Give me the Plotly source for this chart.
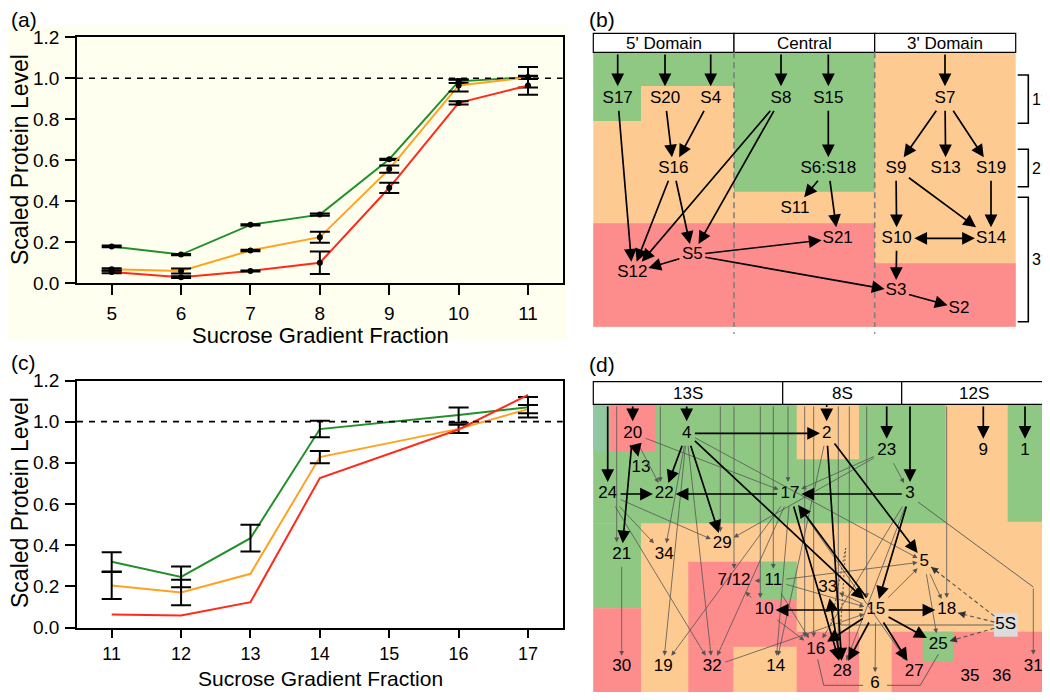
import plotly.graph_objects as go

# page body has an 8px margin: figure is placed at (8, 8) in the 1050x700 window
OX, OY = 8, 8
FW, FH = 1042, 684
FONT = "Arial, Liberation Sans, sans-serif"

# ---------------- Panel (a) data ----------------
a_fraction = [5, 6, 7, 8, 9, 10, 11]
a_green = [0.18, 0.14, 0.285, 0.335, 0.605, 0.985, 1.005]
a_green_err = [0.004, 0.003, 0.003, 0.005, 0.003, 0.008, 0.008]
a_orange = [0.068, 0.06, 0.16, 0.225, 0.557, 0.965, 1.005]
a_orange_err = [0.006, 0.012, 0.004, 0.027, 0.018, 0.03, 0.05]
a_red = [0.055, 0.03, 0.06, 0.10, 0.466, 0.88, 0.965]
a_red_err = [0.006, 0.004, 0.003, 0.055, 0.025, 0.008, 0.045]

# ---------------- Panel (c) data ----------------
c_fraction = [11, 12, 13, 14, 15, 16, 17]
c_green = [0.319, 0.246, 0.434, 0.964, None, 1.032, 1.07]
c_green_err = [0.047, 0.05, 0.065, 0.04, None, 0.037, 0.05]
c_orange = [0.204, 0.17, 0.261, 0.828, None, 0.965, 1.061]
c_orange_err = [0.066, 0.062, None, 0.03, None, 0.02, 0.02]
c_red = [0.063, 0.058, 0.123, 0.726, None, 0.962, 1.13]
c_red_err = [None, None, None, None, None, None, None]

y_ticks = [0.0, 0.2, 0.4, 0.6, 0.8, 1.0, 1.2]

# ---------------- Panel (b) diagram ----------------
b_header = ["5' Domain", "Central", "3' Domain"]
b_labels = ["S17", "S20", "S4", "S8", "S15", "S7", "S16", "S6:S18", "S9", "S13",
            "S19", "S11", "S21", "S10", "S14", "S5", "S12", "S3", "S2"]
b_x = [617.7, 665, 710.7, 781, 828.3, 945, 673.3, 828.3, 896, 945.7,
       991, 795, 837.7, 896.7, 991, 692.3, 632.3, 896, 959]
b_y = [98.3, 98.3, 98.3, 98.3, 98.3, 98.3, 168.3, 168.3, 168.3, 168.3,
       168.3, 208.3, 238.3, 238.3, 238.3, 255, 272.7, 291, 308.3]
b_from_header = ["S17", "S20", "S4", "S8", "S15", "S7"]
b_edges = [("S17", "S12"), ("S20", "S16"), ("S4", "S16"), ("S8", "S12"), ("S8", "S5"),
           ("S15", "S6:S18"), ("S16", "S12"), ("S16", "S5"), ("S6:S18", "S11"),
           ("S6:S18", "S21"), ("S7", "S9"), ("S7", "S13"), ("S7", "S19"), ("S9", "S10"),
           ("S9", "S14"), ("S19", "S14"), ("S10", "S3"), ("S5", "S12"), ("S5", "S21"),
           ("S5", "S3"), ("S3", "S2")]
b_two_way = [("S10", "S14")]
b_levels = ["1°", "2°", "3°"]

# ---------------- Panel (d) diagram ----------------
d_header = ["13S", "8S", "12S"]
d_labels = ["20", "4", "2", "23", "9", "1", "13", "24", "22", "17", "3", "29", "21", "34",
            "5", "7/12", "11", "33", "10", "15", "18", "5S", "25", "16", "30", "19", "32",
            "14", "28", "27", "31", "6", "35", "36"]
d_x = [632.7, 686.7, 826.7, 886.7, 983.3, 1025, 641, 607.7, 664.3, 790, 910, 722.3, 621.7, 664.3,
       924.3, 734, 773.3, 827.7, 764.3, 875.7, 946.7, 1005.7, 938.3, 815.7, 621.7, 663.3, 712.3,
       775.7, 842.3, 914.3, 1033.3, 875, 970, 1001.7]
d_y = [433.3, 433.3, 433.3, 450.7, 450.7, 450.7, 467.7, 494, 494, 494, 494, 544, 554.3, 554.3,
       561.7, 580.7, 580.7, 587.3, 610, 610, 610, 625, 644.3, 649.3, 666.7, 666.7, 666.7,
       666.7, 671.7, 671.7, 666.7, 683.3, 676.7, 676.7]
d_from_header = ["24", "20", "4", "23", "3", "9", "1"]
d_from_header_dotted = ["2"]
d_header_thin = [("21", -5), ("22", -4), ("29", -2), ("7/12", 0), ("10", -4), ("11", 0),
                 ("17", -2), ("16", -11), ("16", -2), ("28", -4), ("28", 7), ("15", -9), ("18", 0)]
d_thick = [("20", "13"), ("20", "21"), ("24", "22"), ("4", "22"), ("4", "2"), ("4", "29"),
           ("4", "15"), ("17", "22"), ("3", "17"), ("2", "28"), ("2", "5"), ("3", "15"),
           ("15", "17"), ("17", "28"), ("15", "10"), ("15", "18"), ("15", "16"), ("15", "28"),
           ("15", "27"), ("15", "25"), ("28", "33")]
d_thin = [("20", "22"), ("20", "17"), ("24", "29"), ("24", "34"), ("24", "32"), ("4", "19"),
          ("4", "32"), ("4", "5"), ("23", "17"), ("23", "29"), ("23", "3"), ("17", "19"),
          ("17", "32"), ("17", "14"), ("17", "27"), ("2", "14"), ("3", "28"), ("3", "16"),
          ("11", "7/12"), ("11", "5"), ("11", "15"), ("11", "16"), ("10", "7/12"), ("10", "16"),
          ("15", "5"), ("15", "33"), ("15", "6"), ("32", "15"), ("5", "18"), ("5", "25"),
          ("4", "34"), ("21", "30")]
d_dashed = [("5S", "5"), ("5S", "18"), ("5S", "25")]

GREEN, ORANGE, RED = "#22902A", "#FFA21F", "#FF2B1A"
BG = {"g": "#8EC883", "o": "#FDCB91", "r": "#FD8C8C", "t": "#8FC7A0", "w": "#FFFFFF",
      "gray": "#DCDCDC"}

b_regions = [(593.3, 52.3, 1015.7, 326.7, "o"), (593.3, 52.3, 734, 86, "g"),
             (593.3, 86, 641, 121, "g"), (734, 52.3, 874.7, 191.7, "g"),
             (593.3, 223.3, 874.7, 326.7, "r"), (874.7, 263.3, 1015.7, 326.7, "r")]
d_regions = [(593.3, 404.3, 1046.7, 694, "o"), (593.3, 404.3, 945.7, 523.3, "g"),
             (1007.7, 404.3, 1046.7, 521.7, "g"), (593.3, 404.3, 610, 451.7, "t"),
             (610, 404.3, 656, 451.7, "r"), (796.7, 404.3, 859, 459.3, "o"),
             (593.3, 523.3, 641, 608.3, "g"), (593.3, 608.3, 641, 694, "r"),
             (688.3, 561.7, 796.7, 646.7, "r"), (688.3, 646.7, 733.3, 694, "r"),
             (760, 561.7, 796.7, 600, "g"), (796.7, 631.7, 859, 694, "r"),
             (891.7, 631.7, 1046.7, 694, "r"), (922.7, 631.7, 953.3, 661.7, "g"),
             (994, 613.3, 1017.7, 636.7, "gray")]


def px(x):
    return (x - OX) / FW


def py(y):
    return 1 - (y - OY) / FH


fig = go.Figure()


def add_series(x, y, err, color, xa, ya, dot_color):
    fig.add_trace(go.Scatter(x=x, y=y, mode="lines", connectgaps=True,
                             line=dict(color=color, width=2), xaxis=xa, yaxis=ya,
                             showlegend=False, hoverinfo="skip"))
    keep = [i for i, (yi, e) in enumerate(zip(y, err)) if e is not None and yi is not None]
    if keep:
        fig.add_trace(go.Scatter(x=[x[i] for i in keep], y=[y[i] for i in keep], mode="markers",
                                 marker=dict(color=dot_color, size=6, line=dict(width=0)),
                                 error_y=dict(type="data", array=[err[i] for i in keep],
                                              color="black", thickness=2, width=10),
                                 xaxis=xa, yaxis=ya, showlegend=False, hoverinfo="skip"))


for yv, ev, col in [(a_green, a_green_err, GREEN), (a_orange, a_orange_err, ORANGE),
                    (a_red, a_red_err, RED)]:
    add_series(a_fraction, yv, ev, col, "x", "y", "black")
for yv, ev, col in [(c_green, c_green_err, GREEN), (c_orange, c_orange_err, ORANGE),
                    (c_red, c_red_err, RED)]:
    add_series(c_fraction, yv, ev, col, "x2", "y2", "rgba(0,0,0,0)")

# node labels
fig.add_trace(go.Scatter(x=b_x, y=b_y, text=b_labels, mode="text",
                         textfont=dict(size=17, family=FONT, color="black"),
                         xaxis="x3", yaxis="y3", showlegend=False, hoverinfo="skip"))
fig.add_trace(go.Scatter(x=d_x, y=d_y, text=d_labels, mode="text",
                         textfont=dict(size=17, family=FONT, color="black"),
                         xaxis="x3", yaxis="y3", showlegend=False, hoverinfo="skip"))

shapes = []
annotations = []

# cream background of panel (a)
shapes.append(dict(type="rect", xref="paper", yref="paper", x0=px(0), x1=px(567),
                   y0=py(340), y1=py(25), fillcolor="#FFFFF0", line=dict(width=0),
                   layer="below"))
# dashed reference line y=1
for xr, yr in [("x", "y"), ("x2", "y2")]:
    shapes.append(dict(type="line", xref=xr + " domain", yref=yr, x0=0, x1=1, y0=1, y1=1,
                       line=dict(color="black", width=1.6, dash="6px,6px"), layer="above"))


def rect(x0, y0, x1, y1, fill, lw=0):
    shapes.append(dict(type="rect", xref="x3", yref="y3", x0=x0, x1=x1, y0=y0, y1=y1,
                       fillcolor=fill, line=dict(width=lw, color="black"), layer="below"))


def line(x0, y0, x1, y1, color="black", width=1.2, dash="solid"):
    shapes.append(dict(type="line", xref="x3", yref="y3", x0=x0, x1=x1, y0=y0, y1=y1,
                       line=dict(color=color, width=width, dash=dash), layer="below"))


def arrow(x0, y0, x1, y1, width=1.7, size=1.5, color="black", side="end"):
    annotations.append(dict(x=x1, y=y1, ax=x0, ay=y0, xref="x3", yref="y3", axref="x3",
                            ayref="y3", showarrow=True, arrowhead=2, arrowsize=size,
                            arrowwidth=width, arrowcolor=color, text="", arrowside=side,
                            standoff=0, startstandoff=0))


def label(x, y, text, size=17, ref="x3"):
    annotations.append(dict(x=x, y=y, xref=ref, yref=ref.replace("x", "y"), text=text,
                            showarrow=False, xanchor="center", yanchor="middle",
                            font=dict(size=size, family=FONT, color="black")))


def half(lab):
    return 4.7 * len(lab) + 2, 11


def clip(cx, cy, tx, ty, hw, hh):
    dx, dy = tx - cx, ty - cy
    ts = []
    if abs(dx) > 1e-9:
        ts.append(hw / abs(dx))
    if abs(dy) > 1e-9:
        ts.append(hh / abs(dy))
    t = min(ts) if ts else 0
    return cx + dx * t, cy + dy * t


def ends(pos, a, b):
    (x0, y0), (x1, y1) = pos[a], pos[b]
    s = clip(x0, y0, x1, y1, *half(a))
    e = clip(x1, y1, x0, y0, *half(b))
    return s, e


for x0, y0, x1, y1, c in b_regions + d_regions:
    rect(x0, y0, x1, y1, BG[c])

# header boxes
b_div = [593.3, 734, 874.7, 1015.7]
d_div = [593.3, 782.7, 901.7, 1046.7]
for divs, ytop, ybot, names in [(b_div, 33.3, 52.3, b_header), (d_div, 381.7, 404.3, d_header)]:
    for i, nm in enumerate(names):
        rect(divs[i], ytop, divs[i + 1], ybot, "#FFFFFF", lw=1.2)
        label((divs[i] + divs[i + 1]) / 2, (ytop + ybot) / 2 + 0.5, nm)

# dashed domain separators in (b)
for xs in [734, 874.7]:
    line(xs, 52.3, xs, 327, color="#7F7F7F", width=1.6, dash="6px,4px")
    line(xs, 332, xs, 334, color="#7F7F7F", width=1.2)

# brackets (b)
for (ya, yb), lab in zip([(75, 123.3), (149.3, 186.7), (197.3, 321.7)], b_levels):
    shapes.append(dict(type="path", xref="x3", yref="y3",
                       path=f"M1017.7,{ya} H1028.3 V{yb} H1017.7",
                       line=dict(color="black", width=1.6), layer="below"))
    label(1039, (ya + yb) / 2, lab, size=16)

b_pos = {k: (x, y) for k, x, y in zip(b_labels, b_x, b_y)}
d_pos = {k: (x, y) for k, x, y in zip(d_labels, d_x, d_y)}

for n in b_from_header:
    x, y = b_pos[n]
    arrow(x, 53, x, y - 12)
for a, b in b_edges:
    s, e = ends(b_pos, a, b)
    arrow(s[0], s[1], e[0], e[1])
for a, b in b_two_way:
    s, e = ends(b_pos, a, b)
    arrow(s[0], s[1], e[0], e[1], side="end+start")

# (d) header connections
for n, dx in d_header_thin:
    x, y = d_pos[n]
    arrow(x + dx, 405, x + dx, y - 12, width=0.8, size=1.2, color="#555555")
for n in d_from_header:
    x, y = d_pos[n]
    arrow(x, 405, x, y - 12)
for n in d_from_header_dotted:
    x, y = d_pos[n]
    line(x, 405, x, y - 18, width=1.6, dash="2px,2px")
    arrow(x, y - 18, x, y - 12)

for a, b in d_thin:
    s, e = ends(d_pos, a, b)
    arrow(s[0], s[1], e[0], e[1], width=0.8, size=1.2, color="#555555")
for a, b in d_thick:
    s, e = ends(d_pos, a, b)
    arrow(s[0], s[1], e[0], e[1])
for a, b in d_dashed:
    s, e = ends(d_pos, a, b)
    line(s[0], s[1], e[0], e[1], color="#555555", width=1.1, dash="4px,3px")
    arrow(s[0] + (e[0] - s[0]) * 0.85, s[1] + (e[1] - s[1]) * 0.85, e[0], e[1],
          width=1.1, size=1.3, color="#333333")

# (d) routed connectors
x5s, y5s = d_pos["5S"]
x15, y15 = d_pos["15"]
line(x5s - 12, y5s, x15 - 35, y5s, color="#555555", width=0.9)
line(x15 - 35, y5s, x15 - 30, 548, color="#555555", width=1.0, dash="2px,2px")
line(x15 - 30, 548, x15 - 45, y5s, color="#555555", width=1.0, dash="2px,2px")
x25, y25 = d_pos["25"]
x6, y6 = d_pos["6"]
x16, y16 = d_pos["16"]
line(x25, y25 + 10, x25 - 18, y6 + 2, color="#555555", width=0.9)
line(x25 - 18, y6 + 2, x6 + 12, y6 + 2, color="#555555", width=0.9)
line(x16 + 2, y16 + 10, x16 + 8, y6 + 2, color="#555555", width=0.9)
line(x16 + 8, y6 + 2, x6 - 12, y6 + 2, color="#555555", width=0.9)
x3, y3 = d_pos["3"]
x31, y31 = d_pos["31"]
line(x3 + 8, y3 + 8, x31, 587, color="#555555", width=0.9)
arrow(x31, 587, x31, y31 - 12, width=0.8, size=1.2, color="#555555")

# panel letters
for txt, lx, ly, anc in [("(a)", 9, 19, "left"), ("(b)", 602, 19, "center"),
                         ("(c)", 9, 362, "left"), ("(d)", 602, 365, "center")]:
    annotations.append(dict(x=px(lx), y=py(ly), xref="paper", yref="paper", text=txt,
                            showarrow=False, xanchor=anc, yanchor="middle",
                            font=dict(size=21, family=FONT, color="black")))
# axis titles
for ytitle, xtitle, tsize in [(160, 335, 22), (503, 678.5, 21)]:
    annotations.append(dict(x=px(20), y=py(ytitle), xref="paper", yref="paper",
                            text="Scaled Protein Level", textangle=-90, showarrow=False,
                            xanchor="center", yanchor="middle",
                            font=dict(size=23, family=FONT, color="black")))
    annotations.append(dict(x=px(320), y=py(xtitle), xref="paper", yref="paper",
                            text="Sucrose Gradient Fraction", showarrow=False,
                            xanchor="center", yanchor="middle",
                            font=dict(size=tsize, family=FONT, color="black")))

axis_style = dict(showline=True, linecolor="black", linewidth=1.5, mirror=True,
                  ticks="outside", tickwidth=1.5, tickcolor="black",
                  showgrid=False, zeroline=False, fixedrange=True)
tick19 = dict(size=19, family=FONT, color="black")
tick18 = dict(size=18, family=FONT, color="black")

fig.update_layout(
    width=FW, height=FH, margin=dict(l=0, r=0, t=0, b=0, pad=0, autoexpand=False),
    paper_bgcolor="white", plot_bgcolor="rgba(0,0,0,0)",
    font=dict(family=FONT, color="black"),
    showlegend=False,
    xaxis=dict(domain=[px(77), px(562.7)], range=[4.5, 11.5], anchor="y",
               tickvals=a_fraction, ticklen=10, ticklabelstandoff=2, tickfont=tick19,
               **axis_style),
    yaxis=dict(domain=[py(283.3), py(37.3)], range=[0, 1.2], anchor="x",
               tickvals=y_ticks, tickformat=".1f", ticklen=10, ticklabelstandoff=2,
               tickfont=tick19, **axis_style),
    xaxis2=dict(domain=[px(77), px(562.7)], range=[10.5, 17.5], anchor="y2",
                tickvals=c_fraction, ticklen=9, ticklabelstandoff=0, tickfont=tick18,
                **axis_style),
    yaxis2=dict(domain=[py(627.5), py(380.5)], range=[0, 1.2], anchor="x2",
                tickvals=y_ticks, tickformat=".1f", ticklen=10, ticklabelstandoff=2,
                tickfont=tick19, **axis_style),
    xaxis3=dict(domain=[px(580), 1], range=[580, OX + FW], anchor="y3", visible=False,
                fixedrange=True),
    yaxis3=dict(domain=[0, 1], range=[OY + FH, OY], anchor="x3", visible=False,
                fixedrange=True),
    shapes=shapes, annotations=annotations,
)

fig.write_html("out.html")
